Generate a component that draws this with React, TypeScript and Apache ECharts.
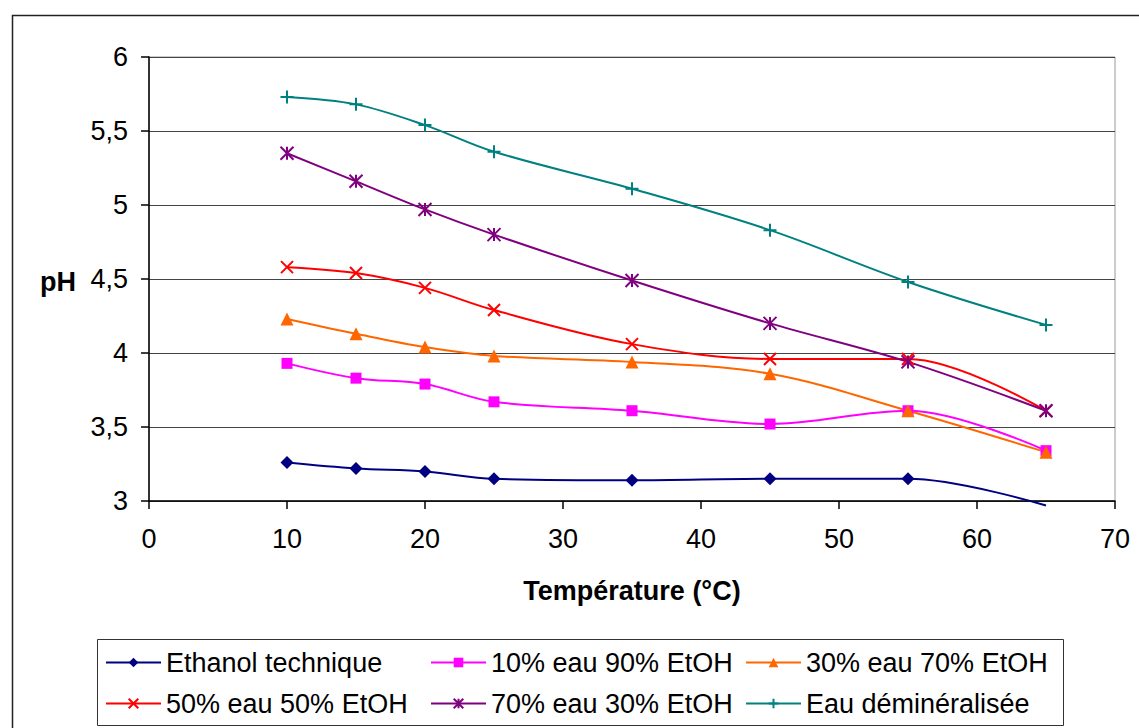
import React, { useEffect, useRef } from "react";
import * as echarts from "echarts";

const temperatures = [10, 15, 20, 25, 35, 45, 55, 65];
const ethanolTechnique = [3.26, 3.22, 3.2, 3.15, 3.14, 3.15, 3.15, 2.97];
const eau10 = [3.93, 3.83, 3.79, 3.67, 3.61, 3.52, 3.61, 3.34];
const eau30 = [4.23, 4.13, 4.04, 3.98, 3.94, 3.86, 3.61, 3.33];
const eau50 = [4.58, 4.54, 4.44, 4.29, 4.06, 3.96, 3.96, 3.61];
const eau70 = [5.35, 5.16, 4.97, 4.8, 4.49, 4.2, 3.94, 3.61];
const eauDemin = [5.73, 5.68, 5.54, 5.36, 5.11, 4.83, 4.48, 4.19];

const seriesNames = [
  "Ethanol technique",
  "10% eau 90% EtOH",
  "30% eau 70% EtOH",
  "50% eau 50% EtOH",
  "70% eau 30% EtOH",
  "Eau déminéralisée",
];
const xTicks = [0, 10, 20, 30, 40, 50, 60, 70];
const yTicks = [3, 3.5, 4, 4.5, 5, 5.5, 6];

const FONT = "'Liberation Sans', Arial, sans-serif";

export default function App() {
  const ref = useRef<HTMLDivElement>(null);
  useEffect(() => {
    document.body.style.margin = "0";
    if (!ref.current) return;
    const chart = echarts.init(ref.current, undefined, { renderer: "svg" });
    const values = [ethanolTechnique, eau10, eau30, eau50, eau70, eauDemin];
    const colors = ["#000080", "#FF00FF", "#FF6600", "#FF0000", "#800080", "#008080"];
    const symbols = [
      "diamond",
      "rect",
      "triangle",
      "path://M0,0L10,10M10,0L0,10",
      "path://M0,0L10,10M10,0L0,10M5,0L5,10",
      "path://M5,0L5,10M0,5L10,5",
    ];
    const sizes = [13, 11, 13, 12, 13, 13];
    const stroked = [false, false, false, true, true, true];

    const series = values.map((vals, i) => ({
      name: seriesNames[i],
      type: "line",
      smooth: 0.35,
      clip: false,
      data: vals.map((v, j) => {
        const item: any = { value: [temperatures[j], v] };
        if (v < 3) item.symbol = "none";
        return item;
      }),
      symbol: symbols[i],
      symbolSize: sizes[i],
      showSymbol: true,
      lineStyle: { color: colors[i], width: 2 },
      itemStyle: stroked[i]
        ? { color: colors[i], borderColor: colors[i], borderWidth: 2 }
        : { color: colors[i], borderWidth: 0 },
      emphasis: { disabled: true },
    }));

    const legendCommon = {
      orient: "vertical",
      top: 644,
      itemWidth: 55,
      itemHeight: 12,
      itemGap: 14,
      selectedMode: false,
      textStyle: { fontFamily: FONT, fontSize: 27, color: "#000", lineHeight: 27 },
    };

    chart.setOption({
      animation: false,
      backgroundColor: "#fff",
      grid: {
        left: 149,
        top: 57,
        right: 24,
        bottom: 227,
        show: true,
        borderColor: "#999",
        borderWidth: 1,
        containLabel: false,
      },
      legend: [
        { ...legendCommon, left: 100, data: [seriesNames[0], seriesNames[3]] },
        { ...legendCommon, left: 425, data: [seriesNames[1], seriesNames[4]] },
        { ...legendCommon, left: 740, data: [seriesNames[2], seriesNames[5]] },
      ],
      xAxis: {
        type: "value",
        min: xTicks[0],
        max: xTicks[xTicks.length - 1],
        interval: 10,
        name: "Température (°C)",
        nameLocation: "middle",
        nameGap: 76,
        nameTextStyle: { fontFamily: FONT, fontSize: 27, fontWeight: "bold", color: "#000" },
        axisLine: { show: true, lineStyle: { color: "#000", width: 1.5 } },
        axisTick: { show: true, length: 8, inside: false, lineStyle: { color: "#000", width: 1.5 } },
        axisLabel: { fontFamily: FONT, fontSize: 27, color: "#000", margin: 24 },
        splitLine: { show: false },
      },
      yAxis: {
        type: "value",
        min: yTicks[0],
        max: yTicks[yTicks.length - 1],
        interval: 0.5,
        axisLine: { show: true, lineStyle: { color: "#000", width: 1.5 } },
        axisTick: { show: true, length: 8, inside: false, lineStyle: { color: "#000", width: 1.5 } },
        axisLabel: {
          fontFamily: FONT,
          fontSize: 27,
          color: "#000",
          margin: 21,
          formatter: (v: number) => String(v).replace(".", ","),
        },
        splitLine: { show: true, lineStyle: { color: "#444", width: 1 } },
      },
      graphic: [
        {
          type: "rect",
          shape: { x: 12.5, y: 15.5, width: 1300, height: 900 },
          style: { fill: "none", stroke: "#222", lineWidth: 1.5 },
          silent: true,
        },
        {
          type: "rect",
          shape: { x: 97.5, y: 639.5, width: 966, height: 86 },
          style: { fill: "none", stroke: "#333", lineWidth: 1 },
          silent: true,
        },
        {
          type: "text",
          x: 58,
          y: 282,
          style: {
            text: "pH",
            fontFamily: FONT,
            fontSize: 27,
            fontWeight: "bold",
            fill: "#000",
            align: "center",
            verticalAlign: "middle",
          },
          silent: true,
        },
      ],
      series,
    });
    return () => chart.dispose();
  }, []);
  return <div ref={ref} style={{ width: 1139, height: 728 }} />;
}
